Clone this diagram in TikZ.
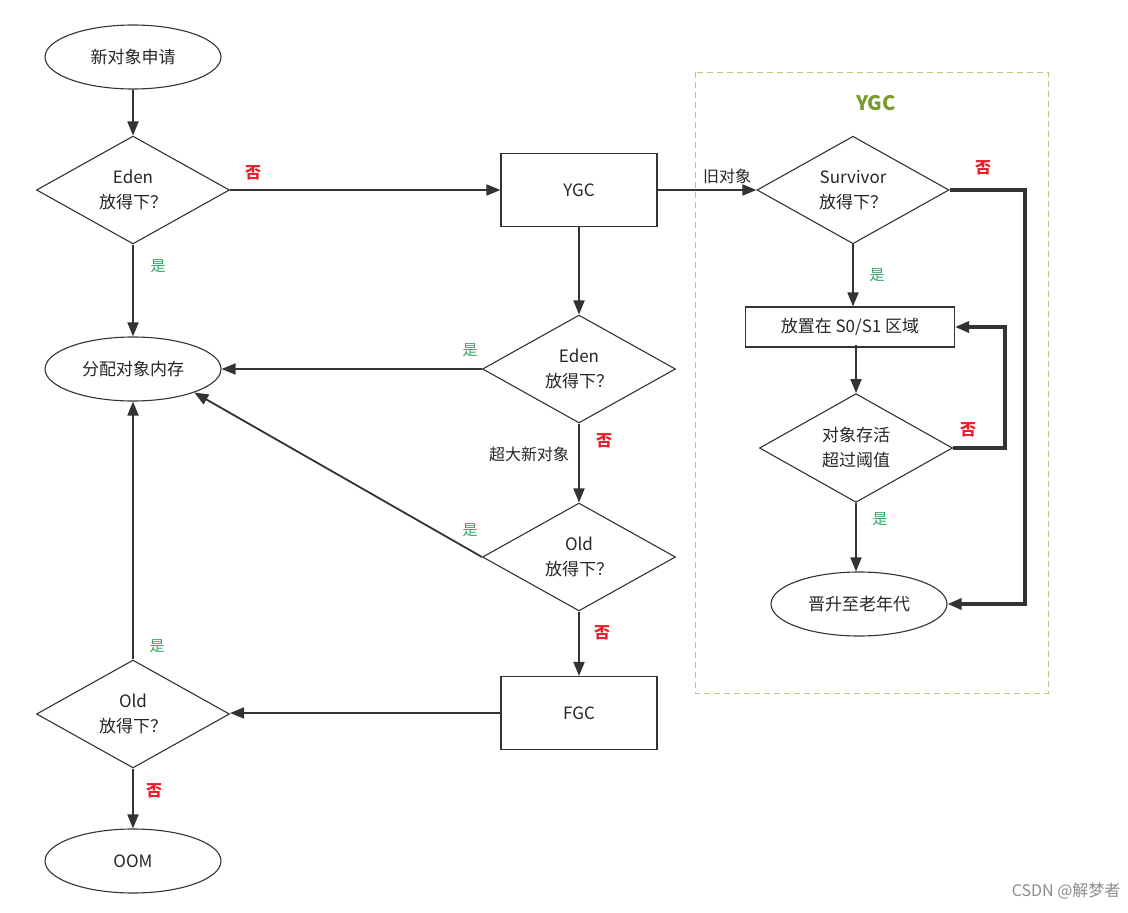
\documentclass[tikz,border=0pt]{standalone}
\usepackage{fontspec}
\setmainfont{Noto Sans CJK SC}
\usetikzlibrary{shapes.geometric,arrows.meta}
\definecolor{ln}{HTML}{333333}
\definecolor{nored}{HTML}{E8202A}
\definecolor{yesgr}{HTML}{34A86A}
\definecolor{boxgr}{HTML}{B9C97A}
\definecolor{titgr}{HTML}{7A9A2E}
\tikzset{
  base/.style={draw=ln,line width=1.1pt,inner sep=0pt,align=center,font=\fontsize{17}{25}\selectfont,text=black!85},
  oval/.style={base,ellipse,minimum width=176pt,minimum height=64pt},
  dia/.style={base,diamond,minimum width=193pt,minimum height=98pt},
  rbox/.style={base,rectangle,minimum width=156pt,minimum height=73pt},
  conn/.style={draw=ln,line width=1.8pt,-{Triangle[length=14pt,width=11pt]}},
  thick conn/.style={conn,line width=3.2pt},
  nolbl/.style={text=nored,font=\fontsize{16}{16}\selectfont\bfseries,inner sep=1pt},
  yeslbl/.style={text=yesgr,font=\fontsize{15}{15}\selectfont,inner sep=1pt},
  plainlbl/.style={text=black!85,font=\fontsize{16}{16}\selectfont,inner sep=1pt},
}
\begin{document}
\begin{tikzpicture}[x=1pt,y=-1pt]
\useasboundingbox[fill=white] (0,0) rectangle (1128,913);
% dashed YGC frame
\draw[boxgr,line width=1pt,dash pattern=on 6pt off 4pt] (695,72) rectangle (1048,693);
\node[text=titgr,font=\fontsize{20}{20}\selectfont\bfseries] (ygctitle) at (876,103) {YGC};

% left column
\node[oval] (start) at (133,57) {新对象申请};
\node[dia] (eden1) at (133,190) {Eden\\放得下？};
\node[oval] (alloc) at (133,369) {分配对象内存};
\node[dia] (old2) at (133,714) {Old\\放得下？};
\node[oval] (oom) at (133,861) {OOM};

% middle column
\node[rbox] (ygc) at (579,190) {YGC};
\node[dia] (eden2) at (579,369) {Eden\\放得下？};
\node[dia] (old1) at (579,557) {Old\\放得下？};
\node[rbox] (fgc) at (579,713) {FGC};

% YGC region
\node[dia,minimum width=192pt,minimum height=100pt] (surv) at (853,190) {Survivor\\放得下？};
\node[base,rectangle,minimum width=209pt,minimum height=40pt] (place) at (850,327) {放置在 S0/S1 区域};
\node[dia,minimum width=193pt,minimum height=100pt] (alive) at (856,448) {对象存活\\超过阈值};
\node[oval] (promo) at (859,604) {晋升至老年代};

% connectors
\draw[conn] (start) -- (eden1);
\draw[conn] (eden1.east) -- (ygc.west);
\draw[conn] (eden1.south) -- (alloc);
\draw[conn] (ygc) -- (eden2.north);
\draw[conn] (eden2.west) -- (alloc.east);
\draw[conn] (eden2.south) -- (old1.north);
\draw[conn] (old1.west) -- (alloc.-21);
\draw[conn] (old1.south) -- (old1.south |- fgc.north);
\draw[conn] (fgc.west) -- (fgc.west -| old2.east);
\draw[conn] (old2.north) -- (alloc.south);
\draw[conn] (old2.south) -- (oom.north);
\draw[conn] (ygc.east) -- (surv.west);
\draw[conn] (surv.south) -- (surv.south |- place.north);
\draw[conn] ([yshift=3pt]place.south -| alive.north) -- (alive.north);
\draw[conn] (alive.south) -- (alive.south |- promo.north);
\draw[thick conn] (surv.east) -| (1025,604) -- (promo.east);
\draw[thick conn] (alive.east) -| (1005,327) -- (place.east);

% labels
\node[nolbl] (n1) at (253,173) {否};
\node[yeslbl] (y1) at (158,266) {是};
\node[yeslbl] (y2) at (470,350) {是};
\node[plainlbl] (big) at (529,454) {超大新对象};
\node[nolbl] (n2) at (604,441) {否};
\node[yeslbl] (y3) at (470,530) {是};
\node[nolbl] (n3) at (602,633) {否};
\node[yeslbl] (y4) at (157,646) {是};
\node[nolbl] (n4) at (154,791) {否};
\node[plainlbl] (old) at (727,176) {旧对象};
\node[nolbl] (n5) at (983,168) {否};
\node[yeslbl] (y5) at (877,275) {是};
\node[nolbl] (n6) at (968,430) {否};
\node[yeslbl] (y6) at (880,519) {是};

\node[text=black!45,font=\fontsize{16}{16}\selectfont,anchor=east] (wm) at (1124,891) {CSDN @解梦者};
\end{tikzpicture}
\end{document}
